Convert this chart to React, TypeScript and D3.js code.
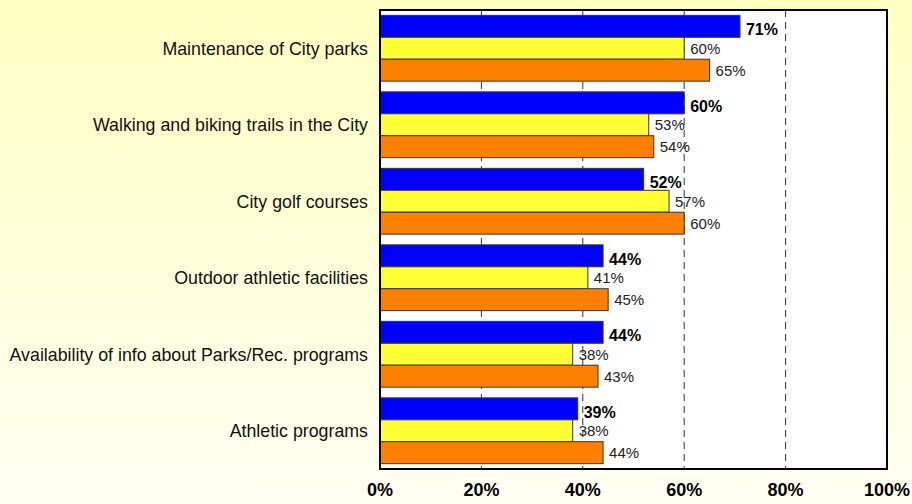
import React from "react";
import * as d3 from "d3";

const categories = [
  "Maintenance of City parks",
  "Walking and biking trails in the City",
  "City golf courses",
  "Outdoor athletic facilities",
  "Availability of info about Parks/Rec. programs",
  "Athletic programs",
];
const series1 = [71, 60, 52, 44, 44, 39];
const series2 = [60, 53, 57, 41, 38, 38];
const series3 = [65, 54, 60, 45, 43, 44];
const xTicks = [0, 20, 40, 60, 80, 100];

const W = 912, H = 504;
const L = 380, R = 887, T = 10, B = 469;

export default function App() {
  const x = d3.scaleLinear().domain([0, 100]).range([L, R]);
  const y = d3.scaleBand<string>().domain(categories).range([T, B]).paddingInner(0.14).paddingOuter(0.07);
  const sub = d3.scaleBand<number>().domain([0, 1, 2]).range([0, y.bandwidth()]);
  const seriesList = [series1, series2, series3];
  const colors = ["#0000FF", "#FFFF33", "#FF8000"];
  return (
    <svg width={W} height={H} style={{ position: "fixed", left: 0, top: 0, fontFamily: "Arial, 'Liberation Sans', sans-serif" }}>
      <defs>
        <linearGradient id="bg" x1="0" y1="0" x2="0" y2="1">
          <stop offset="0" stopColor="#FFFFC2" />
          <stop offset="1" stopColor="#FFFFF2" />
        </linearGradient>
      </defs>
      <rect x={0} y={0} width={W} height={H} fill="url(#bg)" />
      <rect x={L} y={T} width={R - L} height={B - T} fill="#FFFFFF" />
      {xTicks.slice(1, -1).map((t) => (
        <line key={t} x1={x(t)} x2={x(t)} y1={T} y2={B} stroke="#333" strokeWidth={1} strokeDasharray="7,5" />
      ))}
      {categories.map((c, i) => (
        <g key={c}>
          {seriesList.map((s, j) => {
            const yy = (y(c) as number) + (sub(j) as number);
            const h = sub.bandwidth();
            const fs = j === 0 ? 16 : 15;
            return (
              <g key={j}>
                <rect x={x(0)} y={yy} width={x(s[i]) - x(0)} height={h} fill={colors[j]} stroke="#333" strokeWidth={1} />
                <text
                  x={x(s[i]) + 6}
                  y={yy + h / 2 + (j === 0 ? 3 : 0)}
                  dy="0.36em"
                  fontSize={fs}
                  fontWeight={j === 0 ? "bold" : "normal"}
                  fill={j === 0 ? "#000" : "#222"}
                >
                  {s[i]}%
                </text>
              </g>
            );
          })}
          <text
            x={368}
            y={(y(c) as number) + y.bandwidth() / 2}
            dy="0.36em"
            textAnchor="end"
            fontSize={17.8}
            fill="#111"
          >
            {c}
          </text>
        </g>
      ))}
      <rect x={L} y={T} width={R - L} height={B - T} fill="none" stroke="#000" strokeWidth={2} />
      {xTicks.map((t) => (
        <text key={t} x={x(t)} y={496} textAnchor="middle" fontSize={18} fontWeight="bold" fill="#000">
          {t}%
        </text>
      ))}
    </svg>
  );
}
